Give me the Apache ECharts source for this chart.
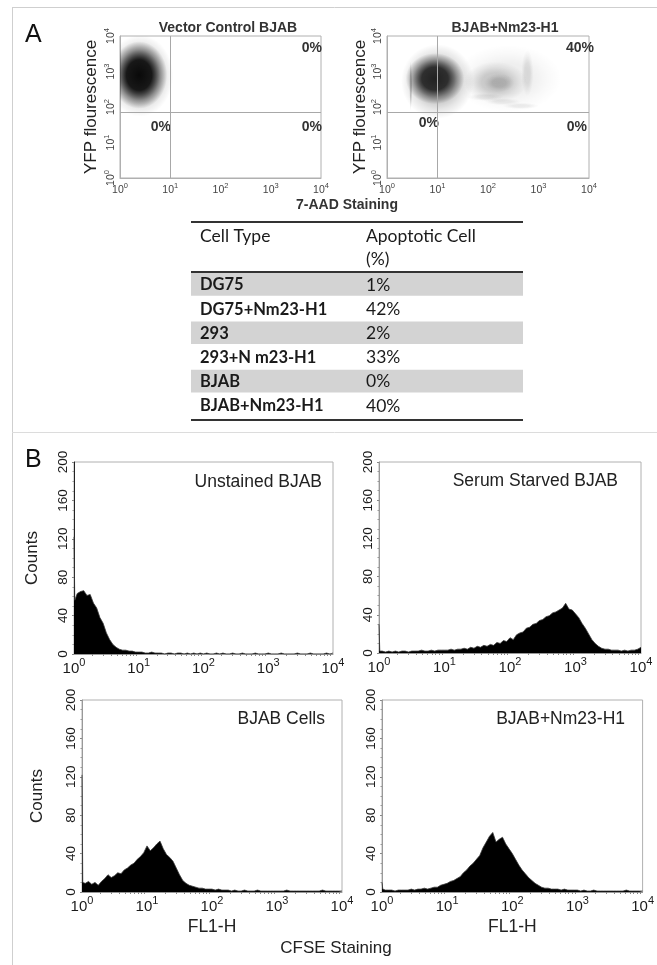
<!DOCTYPE html>
<html>
<head>
<meta charset="utf-8">
<script src="https://cdn.jsdelivr.net/npm/echarts@6/dist/echarts.min.js"></script>
<style>
  html, body { margin: 0; padding: 0; background: #fff; }
  #chart { width: 657px; height: 965px; }
</style>
</head>
<body>
<div id="chart"></div>
<script>
// ---- panel A: dot plots, clouds given as [log10 x, log10 y, spread x, spread y (decades), darkness]
const vectorClouds = [
  [0.40, 2.88, 0.66, 1.15, 0.28],
  [0.38, 2.90, 0.56, 0.95, 0.95]
];
const nm23Clouds = [
  [2.40, 2.80, 1.05, 0.95, 0.07],
  [1.00, 2.72, 0.72, 1.05, 0.28],
  [0.95, 2.80, 0.58, 0.72, 0.82],
  [0.47, 2.60, 0.03, 0.70, 0.22],
  [2.15, 2.70, 0.62, 0.58, 0.17],
  [2.22, 2.68, 0.30, 0.26, 0.14],
  [2.78, 2.95, 0.12, 0.65, 0.10],
  [1.95, 2.28, 0.36, 0.11, 0.07],
  [2.30, 2.15, 0.36, 0.10, 0.07],
  [2.65, 2.03, 0.36, 0.09, 0.07]
];
const gateX = 10;
const gateY = 70;
const vectorQuadrants = ['0%', '0%', '0%'];   // upper right, lower left, lower right
const nm23Quadrants = ['40%', '0%', '0%'];

// ---- table
const cellTypes = ['DG75', 'DG75+Nm23-H1', '293', '293+N m23-H1', 'BJAB', 'BJAB+Nm23-H1'];
const apoptoticPct = ['1%', '42%', '2%', '33%', '0%', '40%'];

// ---- panel B: CFSE histograms, counts every 0.05 decade from 10^0 to 10^4
const binStep = 0.05;
const unstainedSpike = 122;
const unstainedCounts = [
  56, 63, 65, 66, 61, 62, 53, 48, 38, 32,
  22, 15, 10, 7, 5, 4, 4, 3, 3, 2,
  2, 2, 1, 1, 2, 1, 1, 1, 0, 1,
  1, 0, 1, 1, 0, 1, 0, 1, 0, 1,
  0, 1, 0, 0, 1, 0, 1, 0, 0, 1,
  0, 0, 1, 0, 0, 0, 1, 0, 0, 0,
  1, 0, 0, 0, 1, 0, 0, 0, 0, 1,
  0, 0, 0, 1, 0, 0, 0, 0, 1, 0,
  1
];
const starvedSpike = 30;
const starvedCounts = [
  2, 2, 1, 2, 1, 2, 1, 2, 2, 1,
  2, 2, 2, 3, 2, 2, 3, 2, 3, 3,
  3, 3, 4, 3, 4, 4, 5, 4, 6, 5,
  7, 6, 8, 7, 9, 8, 11, 10, 13, 12,
  16, 14, 19, 21, 22, 26, 27, 30, 31, 34,
  35, 38, 39, 42, 43, 45, 47, 52, 46, 45,
  41, 37, 31, 26, 20, 14, 10, 7, 5, 4,
  4, 3, 3, 3, 2, 3, 2, 3, 3, 4,
  6
];
const bjabSpike = 122;
const bjabCounts = [
  10, 9, 11, 8, 10, 7, 11, 14, 18, 15,
  17, 20, 19, 23, 25, 28, 30, 34, 37, 41,
  48, 43, 46, 50, 53, 45, 39, 36, 32, 25,
  18, 12, 9, 7, 6, 5, 4, 4, 3, 3,
  3, 2, 3, 2, 2, 2, 1, 2, 1, 1,
  2, 1, 1, 1, 2, 1, 1, 1, 1, 1,
  1, 1, 1, 2, 1, 1, 1, 1, 1, 1,
  1, 1, 1, 1, 2, 1, 1, 1, 1, 1,
  1
];
const nm23Spike = 10;
const nm23Counts = [
  3, 2, 2, 2, 1, 2, 2, 2, 2, 3,
  2, 3, 3, 4, 3, 4, 5, 5, 7, 8,
  9, 11, 12, 14, 16, 20, 23, 27, 30, 34,
  38, 46, 52, 58, 62, 52, 55, 57, 50, 45,
  40, 34, 28, 23, 19, 15, 12, 9, 7, 5,
  4, 4, 3, 3, 3, 2, 3, 2, 2, 2,
  2, 1, 2, 1, 1, 2, 1, 1, 1, 1,
  1, 1, 1, 1, 1, 2, 1, 1, 1, 1,
  1
];
const countTicks = [0, 200, 40];

const FONT = '"Liberation Sans", Arial, sans-serif';
const TABLE_FONT = 'Lato, "Open Sans", sans-serif';

const chart = echarts.init(document.getElementById('chart'));

const grids = [
  { left: 120, top: 36, width: 201, height: 142 },
  { left: 387, top: 36, width: 202, height: 142 },
  { left: 74, top: 462, width: 259, height: 192 },
  { left: 379, top: 462, width: 262, height: 191 },
  { left: 82, top: 700, width: 260, height: 192 },
  { left: 382, top: 700, width: 261, height: 192 }
].map(g => Object.assign(g, { show: true, borderColor: '#b0b0b0', borderWidth: 1, containLabel: false }));

function powLabel(size, supSize, raise, color) {
  return {
    color: color,
    formatter: v => '{b|10}{s|' + Math.round(Math.log10(v)) + '}',
    rich: {
      b: { fontSize: size, fontFamily: FONT, color: color, verticalAlign: 'bottom' },
      s: { fontSize: supSize, fontFamily: FONT, color: color, verticalAlign: 'bottom', padding: [0, 0, raise, 0] }
    }
  };
}

function logAxis(gi, opts) {
  return Object.assign({
    type: 'log', logBase: 10, min: 1, max: 10000, gridIndex: gi,
    splitLine: { show: false },
    axisTick: { show: false },
    axisLine: { show: true, lineStyle: { color: '#b0b0b0' } }
  }, opts);
}

const xAxes = [], yAxes = [], series = [];

// panel A axes
[0, 1].forEach(gi => {
  xAxes.push(logAxis(gi, {
    axisLabel: Object.assign(powLabel(10.5, 7.5, 6, '#444'), { margin: 4 })
  }));
  yAxes.push(logAxis(gi, {
    name: 'YFP flourescence', nameLocation: 'middle', nameRotate: 90,
    nameGap: gi === 0 ? 20 : 18,
    nameTextStyle: { fontFamily: FONT, fontSize: 17, color: '#222' },
    axisLabel: Object.assign(powLabel(10.5, 7.5, 6, '#444'), { rotate: 90, margin: 3 })
  }));
});

function cloudSeries(clouds, gi) {
  return {
    type: 'custom', xAxisIndex: gi, yAxisIndex: gi, clip: true, silent: true,
    data: clouds.map(c => [Math.pow(10, c[0]), Math.pow(10, c[1]), c[2], c[3], c[4]]),
    renderItem(params, api) {
      const x = api.value(0), y = api.value(1);
      const c = api.coord([x, y]);
      const e = api.coord([x * Math.pow(10, api.value(2)), y * Math.pow(10, api.value(3))]);
      const rx = Math.max(1, Math.abs(e[0] - c[0]));
      const ry = Math.max(1, Math.abs(c[1] - e[1]));
      const a = api.value(4);
      return {
        type: 'circle', x: c[0], y: c[1], scaleY: ry / rx,
        shape: { cx: 0, cy: 0, r: rx },
        style: {
          fill: {
            type: 'radial', x: 0.5, y: 0.5, r: 0.5,
            colorStops: [
              { offset: 0, color: 'rgba(0,0,0,' + a + ')' },
              { offset: 0.45, color: 'rgba(0,0,0,' + (a * 0.92) + ')' },
              { offset: 0.75, color: 'rgba(0,0,0,' + (a * 0.35) + ')' },
              { offset: 1, color: 'rgba(0,0,0,0)' }
            ]
          }
        }
      };
    },
    markLine: {
      silent: true, symbol: 'none', animation: false,
      label: { show: false },
      lineStyle: { color: '#a8a8a8', type: 'solid', width: 1 },
      data: [{ xAxis: gateX }, { yAxis: gateY }]
    }
  };
}
series.push(cloudSeries(vectorClouds, 0));
series.push(cloudSeries(nm23Clouds, 1));

// panel B axes + histograms
const hists = [
  { spike: unstainedSpike, counts: unstainedCounts, countsName: true, fl: false, dark: true },
  { spike: starvedSpike, counts: starvedCounts, countsName: false, fl: false, dark: false },
  { spike: bjabSpike, counts: bjabCounts, countsName: true, fl: true, dark: false },
  { spike: nm23Spike, counts: nm23Counts, countsName: false, fl: true, dark: false }
];
hists.forEach((h, i) => {
  const gi = i + 2;
  xAxes.push(logAxis(gi, {
    name: h.fl ? 'FL1-H' : '', nameLocation: 'middle', nameGap: 26,
    nameTextStyle: { fontFamily: FONT, fontSize: 17.5, color: '#222' },
    axisLine: { show: true, lineStyle: { color: '#999' } },
    minorTick: { show: true, splitNumber: 10, length: 2, lineStyle: { color: '#888' } },
    axisLabel: Object.assign(powLabel(15, 11, 8, '#1a1a1a'), { margin: 3 })
  }));
  yAxes.push({
    type: 'value', gridIndex: gi, min: countTicks[0], max: countTicks[1], interval: countTicks[2],
    name: h.countsName ? 'Counts' : '', nameLocation: 'middle', nameRotate: 90,
    nameGap: i === 0 ? 33 : 36,
    nameTextStyle: { fontFamily: FONT, fontSize: 17, color: '#222' },
    splitLine: { show: false },
    axisLine: { show: true, lineStyle: { color: h.dark ? '#222' : '#999' } },
    axisTick: { show: true, length: 2, lineStyle: { color: '#888' } },
    minorTick: { show: true, splitNumber: 4, length: 1.5, lineStyle: { color: '#999' } },
    axisLabel: { rotate: 90, margin: 4, fontFamily: FONT, fontSize: 13.5, color: '#1a1a1a' }
  });
  const data = [[1, h.spike], [Math.pow(10, 0.012), h.counts[0]]];
  for (let k = 1; k < h.counts.length; k++) data.push([Math.pow(10, k * binStep), h.counts[k]]);
  series.push({
    type: 'line', xAxisIndex: gi, yAxisIndex: gi, data: data,
    showSymbol: false, symbol: 'none', silent: true,
    lineStyle: { color: '#3a3a3a', width: 0.8 },
    areaStyle: { color: '#000', opacity: 1 }
  });
});

// ---- graphic texts, table and panel frame
const graphic = [];
const line = (x1, y1, x2, y2, color, w) => graphic.push({
  type: 'line', silent: true, shape: { x1, y1, x2, y2 }, style: { stroke: color, lineWidth: w }
});
const text = (x, y, str, opts) => graphic.push({
  type: 'text', silent: true, x, y,
  style: Object.assign({ text: str, fontFamily: FONT, fontSize: 14, fill: '#222', textAlign: 'left', textVerticalAlign: 'middle' }, opts)
});

line(12, 7.5, 657, 7.5, '#cfcfcf', 1);
line(12.5, 7, 12.5, 965, '#cfcfcf', 1);
line(12, 432.5, 657, 432.5, '#dcdcdc', 1);
text(25, 35, 'A', { fontSize: 25, fill: '#111' });
text(25, 460, 'B', { fontSize: 25, fill: '#111' });

const bold = { fontSize: 14, fontWeight: 'bold', fill: '#333' };
text(228, 28, 'Vector Control BJAB', Object.assign({}, bold, { textAlign: 'center' }));
text(505, 28, 'BJAB+Nm23-H1', Object.assign({}, bold, { textAlign: 'center' }));
text(322, 48, vectorQuadrants[0], Object.assign({}, bold, { textAlign: 'right' }));
text(171, 127, vectorQuadrants[1], Object.assign({}, bold, { textAlign: 'right' }));
text(322, 127, vectorQuadrants[2], Object.assign({}, bold, { textAlign: 'right' }));
text(594, 48, nm23Quadrants[0], Object.assign({}, bold, { textAlign: 'right' }));
text(439, 123, nm23Quadrants[1], Object.assign({}, bold, { textAlign: 'right' }));
text(587, 127, nm23Quadrants[2], Object.assign({}, bold, { textAlign: 'right' }));
text(347, 205, '7-AAD Staining', Object.assign({}, bold, { textAlign: 'center' }));

// table
const tLeft = 191, tRight = 523, rowTop = 273, rowH = 24.2;
cellTypes.forEach((c, i) => {
  if (i % 2 === 0) {
    graphic.push({ type: 'rect', silent: true, shape: { x: tLeft, y: rowTop + i * rowH, width: tRight - tLeft, height: rowH - 1.5 }, style: { fill: '#d3d3d3' } });
  }
  text(200, rowTop + i * rowH + 12, c, { fontFamily: TABLE_FONT, fontSize: 16.5, fontWeight: 'bold', fill: '#1a1a1a' });
  text(366, rowTop + i * rowH + 12, apoptoticPct[i], { fontFamily: TABLE_FONT, fontSize: 17.5, fill: '#1a1a1a' });
});
line(tLeft, 222, tRight, 222, '#333', 2);
line(tLeft, 272, tRight, 272, '#333', 2);
line(tLeft, 420, tRight, 420, '#333', 2);
text(200, 236, 'Cell Type', { fontFamily: TABLE_FONT, fontSize: 17.5, fill: '#1a1a1a' });
text(366, 236, 'Apoptotic Cell', { fontFamily: TABLE_FONT, fontSize: 17.5, fill: '#1a1a1a' });
text(366, 259, '(%)', { fontFamily: TABLE_FONT, fontSize: 17.5, fill: '#1a1a1a' });

// panel B labels
const hl = { fontSize: 17.5, fill: '#222', textAlign: 'right' };
text(322, 482, 'Unstained BJAB', hl);
text(618, 481, 'Serum Starved BJAB', hl);
text(325, 719, 'BJAB Cells', hl);
text(625, 719, 'BJAB+Nm23-H1', hl);
text(336, 948, 'CFSE Staining', { fontSize: 17, fill: '#222', textAlign: 'center' });

chart.setOption({
  animation: false,
  backgroundColor: '#fff',
  grid: grids,
  xAxis: xAxes,
  yAxis: yAxes,
  series: series,
  graphic: graphic
});
</script>
</body>
</html>
